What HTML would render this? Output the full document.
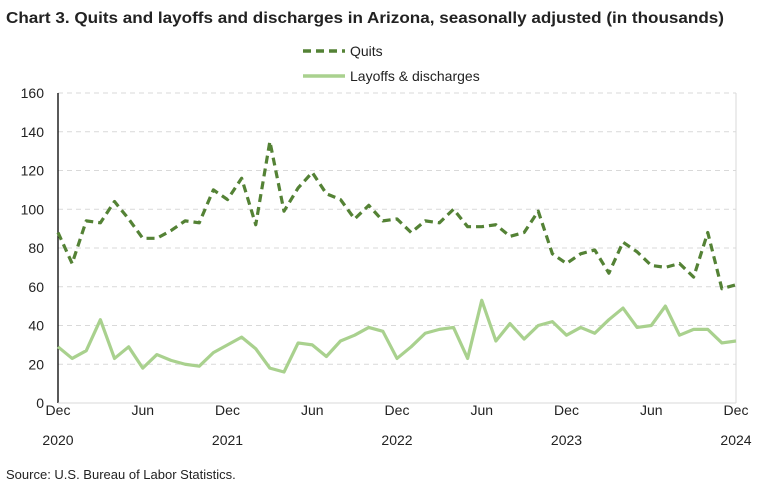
<!DOCTYPE html>
<html><head><meta charset="utf-8"><style>
body{margin:0;background:#fff;font-family:"Liberation Sans",sans-serif}
svg text{font-family:"Liberation Sans",sans-serif;fill:#222}
</style></head><body>
<svg id="c" width="780" height="488" xmlns="http://www.w3.org/2000/svg">
<text x="6" y="23" font-size="16" font-weight="bold" textLength="718" lengthAdjust="spacingAndGlyphs">Chart 3. Quits and layoffs and discharges in Arizona, seasonally adjusted (in thousands)</text>
<g>
<line x1="303" y1="51" x2="345" y2="51" stroke="#548235" stroke-width="3.5" stroke-dasharray="8,5"/>
<text x="350" y="56" font-size="14">Quits</text>
<line x1="303" y1="76" x2="345" y2="76" stroke="#a9d18e" stroke-width="3.5"/>
<text x="350" y="81" font-size="14">Layoffs &amp; discharges</text>
</g>
<g id="grid"></g><g id="axes"></g><g id="series"></g>
<text x="6" y="479" font-size="13">Source: U.S. Bureau of Labor Statistics.</text>
</svg>
<script>
const quits=[88,72,94,93,104,95,85,85,89,94,93,110,105,116,92,135,99,111,119,108,105,95,102,94,95,88,94,93,100,91,91,92,86,88,99,77,72,77,79,67,83,78,71,70,72,65,88,59,61];
const layoffs=[29,23,27,43,23,29,18,25,22,20,19,26,30,34,28,18,16,31,30,24,32,35,39,37,23,29,36,38,39,23,53,32,41,33,40,42,35,39,36,43,49,39,40,50,35,38,38,31,32];
const yTicks=[0,20,40,60,80,100,120,140,160];
const xLabels=["Dec","Jun","Dec","Jun","Dec","Jun","Dec","Jun","Dec"];
const yearLabels=["2020","2021","2022","2023","2024"];
const NS="http://www.w3.org/2000/svg";
const x0=58,x1=736,y0=403,y1=93;
const X=i=>x0+(x1-x0)*i/48;
const Y=v=>y0-(y0-y1)*v/160;
function mk(t,a,p){const e=document.createElementNS(NS,t);for(const k in a)e.setAttribute(k,a[k]);p.appendChild(e);return e;}
const grid=document.getElementById('grid'),axes=document.getElementById('axes'),ser=document.getElementById('series');
yTicks.forEach(v=>{
  if(v>0){const l=mk('line',{x1:x0,x2:x1,y1:Y(v),y2:Y(v),stroke:'#d9d9d9','stroke-dasharray':'5,4'},grid);
  
  }
  const t=mk('text',{x:44,y:Y(v)+5,'font-size':14,'text-anchor':'end'},axes);t.textContent=v;
  
  
});
const ya=mk('line',{x1:x0,x2:x0,y1:y1,y2:y0,stroke:'#000','stroke-width':1.3},axes);


const rb=mk('line',{x1:x1,x2:x1,y1:y1,y2:y0,stroke:'#d9d9d9'},axes);


const xa=mk('line',{x1:x0,x2:x1,y1:y0,y2:y0,stroke:'#d9d9d9'},axes);


xLabels.forEach((s,k)=>{const t=mk('text',{x:X(k*6),y:415,'font-size':14,'text-anchor':'middle'},axes);t.textContent=s;
  
  });
yearLabels.forEach((s,k)=>{const t=mk('text',{x:X(k*12),y:445,'font-size':14,'text-anchor':'middle'},axes);t.textContent=s;
  
  });
function line(d,st,dash,name){const p=mk('polyline',{points:d.map((v,i)=>X(i)+','+Y(v)).join(' '),fill:'none',stroke:st,'stroke-width':3.2,'stroke-linejoin':'round'},ser);
  if(dash)p.setAttribute('stroke-dasharray',dash);
  
  }
line(layoffs,'#a9d18e',null,'layoffs-line');
line(quits,'#548235','8,5','quits-line');
</script>
</body></html>
